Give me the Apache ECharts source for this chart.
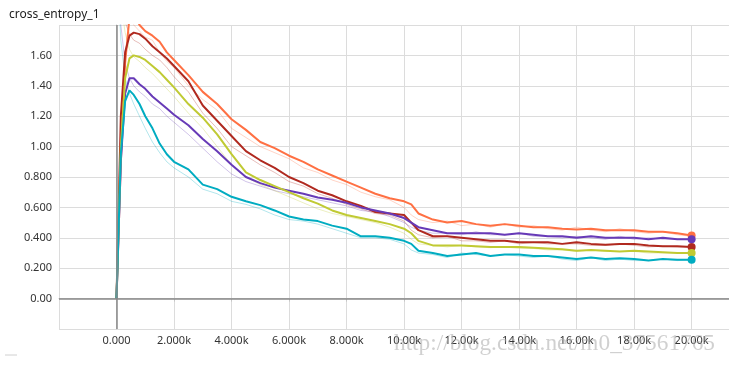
<!DOCTYPE html>
<html>
<head>
<meta charset="utf-8">
<script src="https://cdn.jsdelivr.net/npm/echarts@6/dist/echarts.min.js"></script>
<style>
html,body{margin:0;padding:0;background:#fff;}
#chart{width:729px;height:367px;}
</style>
</head>
<body>
<div id="chart"></div>
<script>
const titleText = 'cross_entropy_1';
const watermarkText = 'http://blog.csdn.net/m0_37561765';

const steps = [0,150,300,450,600,800,1000,1250,1500,1750,
  2000,2500,3000,3500,4000,4500,5000,5500,6000,6500,7000,7500,8000,8500,9000,9500,10000,
  10250,
  10500,11000,11500,12000,12500,13000,13500,14000,14500,15000,15500,16000,16500,17000,17500,18000,18500,19000,19500,20000];

const seriesNames = ['orange','darkred','purple','yellow','cyan'];
const seriesColors = ['#ff7043','#b0291f','#673ab7','#c0ca33','#00acc1'];

// smoothed curves
const orangeSmooth = [0,0.9,1.55,1.85,1.88,1.80,1.76,1.73,1.69,1.62,
  1.57,1.47,1.36,1.28,1.18,1.11,1.03,0.99,0.94,0.90,0.85,0.81,0.77,0.73,0.69,0.66,0.64,
  0.62,
  0.56,0.52,0.50,0.51,0.49,0.48,0.49,0.48,0.47,0.47,0.46,0.455,0.46,0.45,0.45,0.45,0.44,0.44,0.43,0.415];
const darkredSmooth = [0,1.2,1.62,1.73,1.75,1.74,1.71,1.66,1.62,1.58,
  1.53,1.43,1.27,1.17,1.07,0.97,0.91,0.86,0.80,0.76,0.71,0.68,0.64,0.61,0.57,0.56,0.55,
  0.50,
  0.45,0.41,0.41,0.40,0.39,0.38,0.38,0.37,0.37,0.37,0.36,0.37,0.36,0.355,0.36,0.36,0.35,0.345,0.345,0.34];
const purpleSmooth = [0,0.9,1.35,1.45,1.45,1.41,1.38,1.33,1.29,1.25,
  1.21,1.14,1.05,0.97,0.88,0.80,0.76,0.73,0.71,0.69,0.665,0.65,0.63,0.60,0.58,0.56,0.53,
  0.50,
  0.47,0.45,0.43,0.43,0.43,0.43,0.42,0.43,0.42,0.41,0.41,0.40,0.41,0.40,0.40,0.40,0.39,0.40,0.39,0.39];
const yellowSmooth = [0,1.0,1.45,1.58,1.60,1.59,1.57,1.53,1.49,1.44,
  1.39,1.28,1.19,1.08,0.95,0.83,0.78,0.74,0.70,0.66,0.625,0.58,0.55,0.53,0.51,0.49,0.46,
  0.43,
  0.38,0.35,0.35,0.35,0.345,0.34,0.34,0.34,0.335,0.33,0.325,0.315,0.32,0.315,0.31,0.315,0.31,0.305,0.30,0.30];
const cyanSmooth = [0,0.95,1.30,1.37,1.34,1.28,1.20,1.12,1.02,0.95,
  0.90,0.85,0.75,0.72,0.67,0.64,0.615,0.58,0.54,0.52,0.51,0.48,0.46,0.41,0.41,0.40,0.38,
  0.36,
  0.315,0.30,0.28,0.29,0.30,0.28,0.29,0.29,0.28,0.28,0.27,0.26,0.27,0.26,0.265,0.26,0.25,0.26,0.255,0.255];

// raw (faint) curves
const orangeRaw = [2.4,2.1,1.95,1.88,1.80,1.76,1.72,1.70,1.62,1.56,
  1.52,1.40,1.31,1.24,1.12,1.06,1.00,0.96,0.92,0.86,0.83,0.78,0.75,0.70,0.67,0.65,0.60,
  0.55,
  0.52,0.50,0.51,0.48,0.49,0.47,0.49,0.47,0.48,0.46,0.45,0.47,0.45,0.44,0.46,0.44,0.43,0.44,0.42,0.41];
const darkredRaw = [2.3,2.0,1.82,1.74,1.70,1.68,1.64,1.60,1.57,1.52,
  1.46,1.36,1.22,1.12,1.00,0.94,0.88,0.83,0.77,0.74,0.69,0.66,0.62,0.59,0.56,0.55,0.51,
  0.45,
  0.42,0.40,0.41,0.38,0.38,0.37,0.38,0.36,0.37,0.36,0.36,0.36,0.35,0.35,0.36,0.35,0.34,0.345,0.34,0.34];
const purpleRaw = [2.3,1.8,1.55,1.45,1.40,1.36,1.33,1.28,1.25,1.20,
  1.16,1.08,0.99,0.90,0.82,0.77,0.74,0.71,0.69,0.67,0.65,0.63,0.61,0.58,0.57,0.54,0.50,
  0.47,
  0.45,0.43,0.43,0.42,0.44,0.42,0.42,0.43,0.41,0.41,0.40,0.41,0.40,0.39,0.41,0.39,0.40,0.39,0.39,0.39];
const yellowRaw = [2.3,1.95,1.75,1.64,1.59,1.56,1.52,1.48,1.43,1.38,
  1.33,1.22,1.12,1.00,0.88,0.80,0.75,0.71,0.67,0.63,0.59,0.56,0.54,0.52,0.50,0.47,0.43,
  0.39,
  0.36,0.35,0.34,0.35,0.34,0.335,0.34,0.33,0.33,0.32,0.32,0.31,0.32,0.31,0.31,0.31,0.30,0.30,0.30,0.30];
const cyanRaw = [2.3,1.7,1.45,1.35,1.28,1.20,1.12,1.03,0.96,0.90,
  0.86,0.80,0.72,0.69,0.64,0.62,0.59,0.55,0.52,0.51,0.49,0.46,0.43,0.40,0.40,0.39,0.36,
  0.32,
  0.30,0.29,0.27,0.30,0.29,0.28,0.29,0.28,0.27,0.28,0.26,0.25,0.27,0.25,0.26,0.25,0.25,0.26,0.25,0.255];

const xTickValues = [0,2000,4000,6000,8000,10000,12000,14000,16000,18000,20000];
const xTickLabels = ['0.000','2.000k','4.000k','6.000k','8.000k','10.00k','12.00k','14.00k','16.00k','18.00k','20.00k'];
const yTickValues = [0,0.2,0.4,0.6,0.8,1.0,1.2,1.4,1.6];
const yTickLabels = ['0.00','0.200','0.400','0.600','0.800','1.00','1.20','1.40','1.60'];

const smoothArrays = [orangeSmooth,darkredSmooth,purpleSmooth,yellowSmooth,cyanSmooth];
const rawArrays = [orangeRaw,darkredRaw,purpleRaw,yellowRaw,cyanRaw];

function pairs(arr){ return steps.map((s,i)=>[s,arr[i]]); }
function lookup(vals, labels, v){
  for (let i=0;i<vals.length;i++){ if (Math.abs(vals[i]-v) < 1e-6) return labels[i]; }
  return '';
}

const series = [];
rawArrays.forEach((arr,k)=>{
  series.push({
    name: seriesNames[k]+'_raw', type:'line', data: pairs(arr), symbol:'none',
    silent:true, z:2,
    lineStyle:{color:seriesColors[k], width:1, opacity:0.3}
  });
});
smoothArrays.forEach((arr,k)=>{
  const last = arr.length-1;
  series.push({
    name: seriesNames[k], type:'line', data: pairs(arr),
    symbol: (v,p)=> p.dataIndex===last ? 'circle' : 'none',
    symbolSize: 8, showAllSymbol:true, silent:true, z:3,
    itemStyle:{color:seriesColors[k]},
    lineStyle:{color:seriesColors[k], width:2}
  });
});
series.push({
  type:'line', data:[], silent:true, z:1,
  markLine:{
    symbol:'none', silent:true, label:{show:false},
    lineStyle:{color:'#8a8a8a', width:1.5, type:'solid'},
    data:[{yAxis:0},{xAxis:0}]
  }
});

const chart = echarts.init(document.getElementById('chart'));
chart.setOption({
  animation:false,
  backgroundColor:'#fff',
  title:{text:titleText, left:4, top:4,
    textStyle:{fontSize:12, fontWeight:'normal', color:'#212121', fontFamily:'Noto Sans'}},
  grid:{left:59, right:0, top:25, bottom:38, containLabel:false},
  xAxis:{
    type:'value', min:-2000, max:21300, interval:2000,
    axisLine:{show:true, lineStyle:{color:'#c8c8c8'}},
    axisTick:{show:true, length:3, lineStyle:{color:'#c8c8c8'}},
    splitLine:{show:true, lineStyle:{color:'#dcdcdc'}},
    axisLabel:{color:'#333', fontSize:11, fontFamily:'Noto Sans', margin:6,
      showMinLabel:false, showMaxLabel:false,
      formatter:(v)=>lookup(xTickValues,xTickLabels,v)}
  },
  yAxis:{
    type:'value', min:-0.2, max:1.8, interval:0.2,
    axisLine:{show:true, lineStyle:{color:'#c8c8c8'}},
    axisTick:{show:false},
    splitLine:{show:true, lineStyle:{color:'#dcdcdc'}},
    axisLabel:{color:'#333', fontSize:11, fontFamily:'Noto Sans', margin:7,
      showMinLabel:false, showMaxLabel:false,
      formatter:(v)=>lookup(yTickValues,yTickLabels,v)}
  },
  graphic:[
    {type:'text', left:394, top:332, z:100, silent:true,
      style:{text:watermarkText, fontSize:23.3, fontFamily:'Liberation Serif',
        fill:'rgba(170,170,170,0.55)'}},
    {type:'line', shape:{x1:5,y1:355,x2:17,y2:355}, z:100, silent:true,
      style:{stroke:'#d0d0d0', lineWidth:1}}
  ],
  series: series
});
</script>
</body>
</html>
